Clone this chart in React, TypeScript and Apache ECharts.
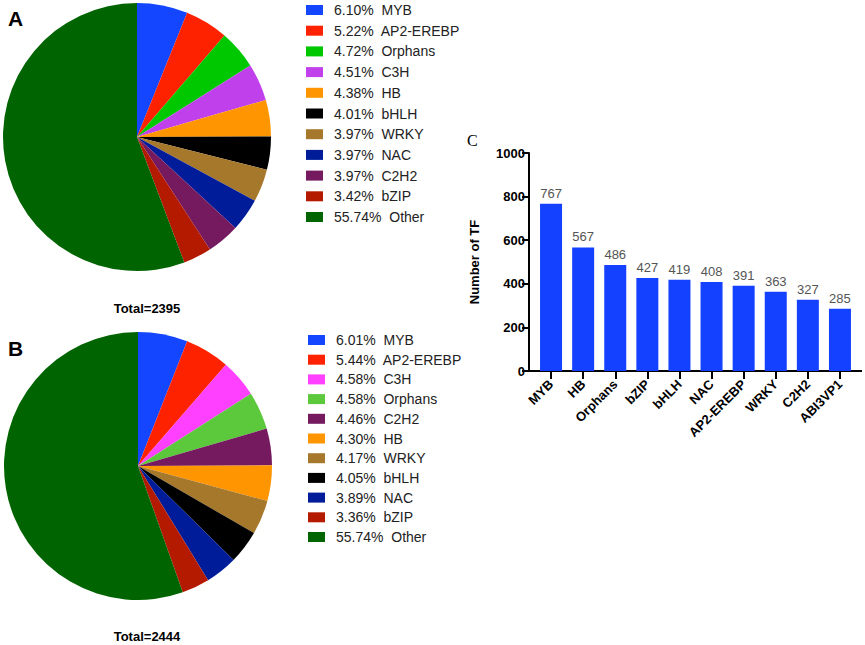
import React, { useEffect, useRef } from "react";
import * as echarts from "echarts";

const pieANames = ["MYB", "AP2-EREBP", "Orphans", "C3H", "HB", "bHLH", "WRKY", "NAC", "C2H2", "bZIP", "Other"];
const pieAPercents = [6.10, 5.22, 4.72, 4.51, 4.38, 4.01, 3.97, 3.97, 3.97, 3.42, 55.74];
const pieAColors = ["#1446FF", "#FF2200", "#00C800", "#C040EC", "#FF9500", "#000000", "#A6782C", "#001C99", "#761A60", "#B41A00", "#006400"];

const pieBNames = ["MYB", "AP2-EREBP", "C3H", "Orphans", "C2H2", "HB", "WRKY", "bHLH", "NAC", "bZIP", "Other"];
const pieBPercents = [6.01, 5.44, 4.58, 4.58, 4.46, 4.30, 4.17, 4.05, 3.89, 3.36, 55.74];
const pieBColors = ["#1446FF", "#FF2200", "#FF40FF", "#5CC83C", "#761A60", "#FF9500", "#A6782C", "#000000", "#001C99", "#B41A00", "#006400"];

const barCategories = ["MYB", "HB", "Orphans", "bZIP", "bHLH", "NAC", "AP2-EREBP", "WRKY", "C2H2", "ABI3VP1"];
const barValues = [767, 567, 486, 427, 419, 408, 391, 363, 327, 285];
const yTicks = [0, 200, 400, 600, 800, 1000];

const totalA = "Total=2395";
const totalB = "Total=2444";

const SANS = "Liberation Sans, Arial, sans-serif";

function legendGraphics(names: string[], pcts: number[], colors: string[], x: number, y0: number, step: number) {
  const els: any[] = [];
  names.forEach((n, i) => {
    const cy = y0 + i * step;
    els.push({
      type: "rect",
      shape: { x: x, y: cy - 5, width: 17, height: 10 },
      style: { fill: colors[i] },
    });
    els.push({
      type: "text",
      x: x + 28,
      y: cy,
      style: {
        text: pcts[i].toFixed(2) + "%  " + n,
        fill: "#222",
        font: "14px " + SANS,
        verticalAlign: "middle",
      },
    });
  });
  return els;
}

export default function App() {
  const ref = useRef<HTMLDivElement>(null);
  useEffect(() => {
    if (!ref.current) return;
    const chart = echarts.init(ref.current, null, { renderer: "svg" });
    const pieData = (names: string[], pcts: number[], colors: string[]) =>
      names.map((n, i) => ({ name: n, value: pcts[i], itemStyle: { color: colors[i] } }));
    chart.setOption({
      animation: false,
      backgroundColor: "#ffffff",
      grid: { left: 535, right: 9, top: 153, bottom: 274, containLabel: false },
      xAxis: {
        type: "category",
        data: barCategories,
        axisLine: { show: false },
        axisTick: { show: true, alignWithLabel: true, length: 8, lineStyle: { color: "#000", width: 2 } },
        axisLabel: {
          rotate: 45,
          interval: 0,
          margin: 11,
          color: "#000",
          fontWeight: "bold",
          fontSize: 13,
          fontFamily: SANS,
        },
      },
      yAxis: {
        type: "value",
        min: yTicks[0],
        max: yTicks[yTicks.length - 1],
        interval: 200,
        offset: 6,
        name: "Number of TF",
        nameLocation: "middle",
        nameRotate: 90,
        nameGap: 48,
        nameTextStyle: { color: "#000", fontWeight: "bold", fontSize: 13, fontFamily: SANS },
        axisLine: { show: true, lineStyle: { color: "#000", width: 2 } },
        axisTick: { show: true, length: 7, lineStyle: { color: "#000", width: 2 } },
        axisLabel: {
          color: "#000",
          fontWeight: "bold",
          fontSize: 13,
          fontFamily: SANS,
          margin: 4,
          formatter: (v: number) => String(v),
        },
        splitLine: { show: false },
      },
      series: [
        {
          type: "pie",
          center: [137, 137],
          radius: 134,
          startAngle: 90,
          clockwise: true,
          label: { show: false },
          labelLine: { show: false },
          emphasis: { disabled: true },
          itemStyle: { borderWidth: 0 },
          data: pieData(pieANames, pieAPercents, pieAColors),
        },
        {
          type: "pie",
          center: [138, 466],
          radius: 134,
          startAngle: 90,
          clockwise: true,
          label: { show: false },
          labelLine: { show: false },
          emphasis: { disabled: true },
          itemStyle: { borderWidth: 0 },
          data: pieData(pieBNames, pieBPercents, pieBColors),
        },
        {
          type: "bar",
          data: barValues,
          barWidth: 22,
          itemStyle: { color: "#1440FF" },
          label: {
            show: true,
            position: "top",
            distance: 4,
            color: "#555",
            fontSize: 13,
            fontFamily: SANS,
          },
        },
      ],
      graphic: [
        {
          type: "line",
          shape: { x1: 528, y1: 371, x2: 862, y2: 371 },
          style: { stroke: "#000", lineWidth: 2 },
        },
        {
          type: "text",
          x: 8,
          y: 18,
          style: { text: "A", font: "bold 21px " + SANS, fill: "#000", verticalAlign: "middle" },
        },
        {
          type: "text",
          x: 8,
          y: 348,
          style: { text: "B", font: "bold 21px " + SANS, fill: "#000", verticalAlign: "middle" },
        },
        {
          type: "text",
          x: 467,
          y: 140,
          style: { text: "C", font: "16px Liberation Serif, Times New Roman, serif", fill: "#000", verticalAlign: "middle" },
        },
        {
          type: "text",
          x: 147,
          y: 308,
          style: { text: totalA, font: "bold 13px " + SANS, fill: "#000", align: "center", verticalAlign: "middle" },
        },
        {
          type: "text",
          x: 147,
          y: 636,
          style: { text: totalB, font: "bold 13px " + SANS, fill: "#000", align: "center", verticalAlign: "middle" },
        },
        ...legendGraphics(pieANames, pieAPercents, pieAColors, 306, 10, 20.7),
        ...legendGraphics(pieBNames, pieBPercents, pieBColors, 308, 340, 19.7),
      ],
    });
    return () => chart.dispose();
  }, []);
  return (
    <div
      ref={ref}
      style={{ position: "fixed", left: 0, top: 0, width: 865, height: 645, background: "#fff" }}
    />
  );
}
